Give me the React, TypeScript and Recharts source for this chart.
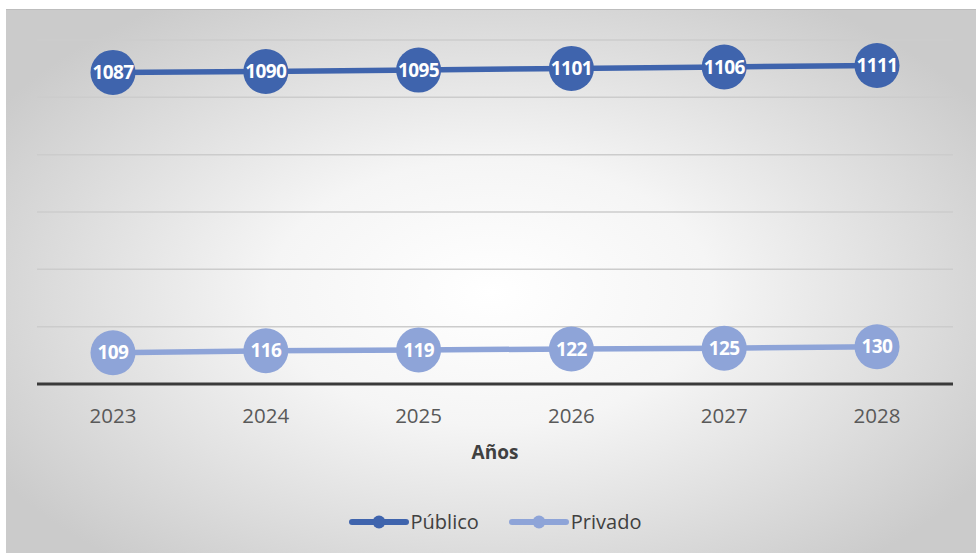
import React from 'react';
import { LineChart, Line, XAxis, YAxis, CartesianGrid, Legend, LabelList, Label } from 'recharts';

const years = ['2023', '2024', '2025', '2026', '2027', '2028'];
const publico = [1087, 1090, 1095, 1101, 1106, 1111];
const privado = [109, 116, 119, 122, 125, 130];
const yTicks = [0, 200, 400, 600, 800, 1000, 1200];

const DARK = '#3F64AD';
const LIGHT = '#8EA4D8';
const FONT = '"Open Sans", sans-serif';

const data = years.map((y, i) => ({ year: y, publico: publico[i], privado: privado[i] }));

const Dot = (color: string) => (props: any) => {
  const { cx, cy } = props;
  if (cx == null || cy == null) return null;
  return <circle cx={cx} cy={cy} r={22.5} fill={color} stroke="none" />;
};

const renderLegend = () => (
  <div style={{ display: 'flex', justifyContent: 'center', gap: 30, fontFamily: FONT, fontSize: 20, color: '#404040', paddingLeft: 8 }}>
    {[{ name: 'Público', color: DARK }, { name: 'Privado', color: LIGHT }].map(item => (
      <div key={item.name} style={{ display: 'flex', alignItems: 'center', gap: 2 }}>
        <svg width={60} height={14}>
          <line x1={3} y1={7} x2={57} y2={7} stroke={item.color} strokeWidth={6} strokeLinecap="round" />
          <circle cx={30} cy={7} r={6.5} fill={item.color} />
        </svg>
        <span>{item.name}</span>
      </div>
    ))}
  </div>
);

const App: React.FC = () => {
  return (
    <div style={{ position: 'absolute', left: 0, top: 0, width: 976, height: 553, background: '#fff' }}>
      <div
        style={{
          position: 'absolute',
          left: 6,
          top: 9,
          width: 970,
          height: 544,
          borderTop: '1px solid #bdbdbd',
          background: 'radial-gradient(ellipse 60% 64% at 50% 52%, #ffffff 0%, #f5f5f5 38%, #cbcbcb 100%)',
        }}
      >
        <LineChart width={970} height={544} data={data} margin={{ top: 30, right: 23, bottom: 0, left: 31 }}>
          <CartesianGrid vertical={false} stroke="#cccccc" strokeWidth={1.5} />
          <YAxis hide domain={[0, 1200]} ticks={yTicks} />
          <XAxis
            dataKey="year"
            height={170}
            padding={{ left: 76, right: 76 }}
            tickLine={false}
            axisLine={{ stroke: '#3a3a3a', strokeWidth: 3 }}
            tickMargin={18}
            tick={{ fill: '#595959', fontSize: 20.5, fontFamily: FONT }}
          >
            <Label value="Años" position="insideTop" offset={62} fill="#404040" fontSize={19} fontWeight="bold" fontFamily={FONT} />
          </XAxis>
          <Legend verticalAlign="middle" content={renderLegend} wrapperStyle={{ top: 498, left: 0, width: 970 }} />
          <Line
            type="linear"
            dataKey="publico"
            name="Público"
            stroke={DARK}
            strokeWidth={5.5}
            dot={Dot(DARK)}
            isAnimationActive={false}
          >
            <LabelList dataKey="publico" position="center" fill="#fff" fontSize={19} fontWeight="bold" fontFamily={FONT} letterSpacing={-0.6} />
          </Line>
          <Line
            type="linear"
            dataKey="privado"
            name="Privado"
            stroke={LIGHT}
            strokeWidth={5.5}
            dot={Dot(LIGHT)}
            isAnimationActive={false}
          >
            <LabelList dataKey="privado" position="center" fill="#fff" fontSize={19} fontWeight="bold" fontFamily={FONT} letterSpacing={-0.6} />
          </Line>
        </LineChart>
      </div>
    </div>
  );
};

export default App;
